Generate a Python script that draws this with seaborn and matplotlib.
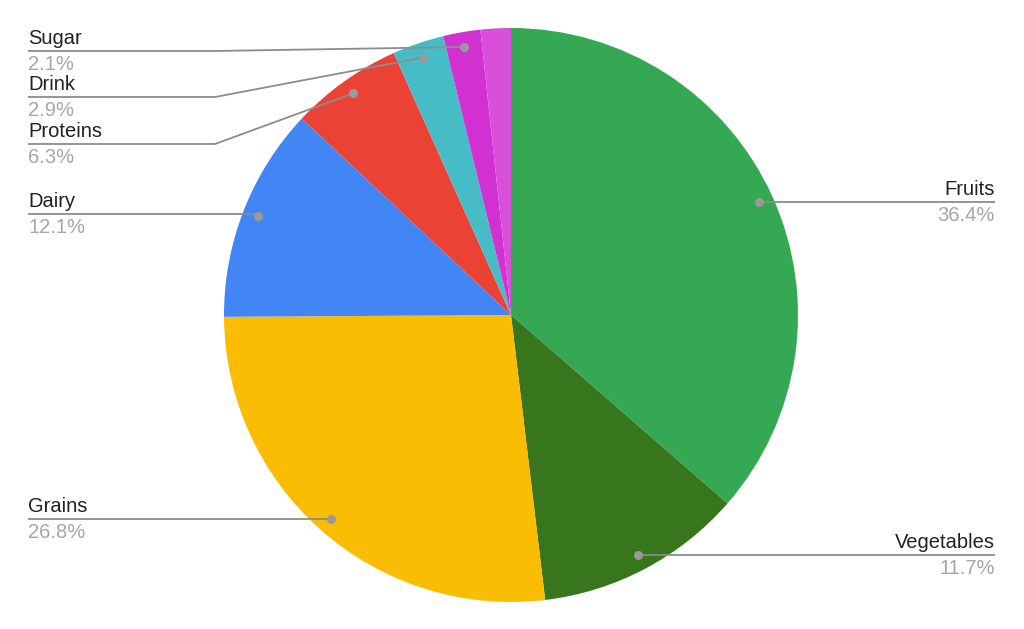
import numpy as np
import matplotlib.pyplot as plt
import seaborn as sns

# slice data (clockwise from 12 o'clock)
categories = ['Fruits', 'Vegetables', 'Grains', 'Dairy', 'Proteins', 'Drink', 'Sugar', 'Other']
shares = [36.4, 11.7, 26.8, 12.1, 6.3, 2.9, 2.1, 1.7]
colors = ['#34a853', '#38761d', '#fbbc04', '#4285f4', '#ea4335', '#46bdc6', '#d231d2', '#d84fd9']

W, H = 1024, 629
sns.set_theme(style='white')
plt.rcParams['font.family'] = ['Liberation Sans', 'DejaVu Sans']

fig = plt.figure(figsize=(W / 100, H / 100), dpi=100)
ax = fig.add_axes([0, 0, 1, 1])

cx, cy, R = 511, H - 315, 287
wedges, _ = ax.pie(shares, colors=sns.color_palette(colors), startangle=90, counterclock=False,
                   center=(cx, cy), radius=R, wedgeprops=dict(linewidth=0))
ax.set_xlim(0, W)
ax.set_ylim(0, H)
ax.set_aspect('equal')
ax.axis('off')

# label layout: (side, line y in px from top, elbow x or None)
layout = {
    'Fruits': ('right', 202, None),
    'Vegetables': ('right', 555, None),
    'Grains': ('left', 519, None),
    'Dairy': ('left', 214, None),
    'Proteins': ('left', 144, 215),
    'Drink': ('left', 97, 215),
    'Sugar': ('left', 51, 215),
}

line_c = '#8c8c8c'
for w, name, val in zip(wedges, categories, shares):
    if name not in layout:
        continue
    side, ly, elbow = layout[name]
    ang = np.deg2rad((w.theta1 + w.theta2) / 2)
    dx = cx + 0.948 * R * np.cos(ang)
    dy = cy + 0.948 * R * np.sin(ang)
    y = H - ly
    if side == 'left':
        x_end = 28
        if elbow is None:
            xs, ys = [dx, x_end], [y, y]
        else:
            xs, ys = [dx, elbow, x_end], [dy, y, y]
        ha = 'left'
    else:
        x_end = 995
        xs, ys = [dx, x_end], [y, y]
        ha = 'right'
    ax.plot(xs, ys, color=line_c, lw=1.3, solid_capstyle='butt', zorder=3)
    ax.plot([dx], [dy], 'o', color='#9a9a9a', ms=5.5, zorder=4)
    ax.text(x_end, y + 3, name, ha=ha, va='bottom', fontsize=14.5, color='#222222')
    ax.text(x_end, y - 4, f'{val}%', ha=ha, va='top', fontsize=14.5, color='#a6a6a6')

fig.savefig('out.png', dpi=100, facecolor='white')
